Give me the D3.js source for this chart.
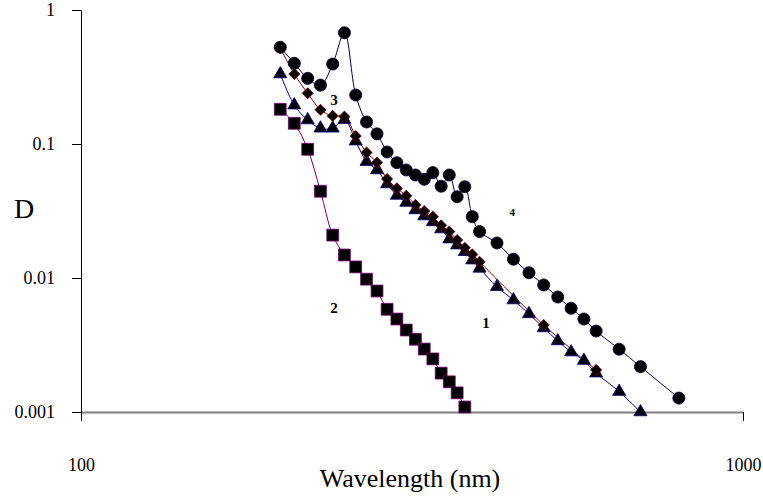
<!DOCTYPE html>
<html>
<head>
<meta charset="utf-8">
<script src="https://cdn.jsdelivr.net/npm/d3@7"></script>
<style>
  body { margin: 0; background: #fff; }
  svg { display: block; }
  text { font-family: "Liberation Serif", "Times New Roman", serif; }
</style>
</head>
<body>
<div id="chart"></div>
<script>
// wavelengths (nm) and optical density
const wl1 = [200,210,220,230,240,250,260,270,280,290,300,310,320,330,340,350,360,370,380,390,400,425,450,475,500,525,550,575,600,650,700];
const d1  = [0.333,0.195,0.151,0.131,0.131,0.152,0.105,0.0738,0.064,0.0503,0.0413,0.0366,0.0322,0.029,0.0262,0.0232,0.0195,0.0176,0.0157,0.0136,0.0118,0.0086,0.00685,0.0054,0.00424,0.00339,0.0028,0.00242,0.00195,0.00142,0.001];

const wl2 = [200,210,220,230,240,250,260,270,280,290,300,310,320,330,340,350,360,370,380];
const d2  = [0.1815,0.1427,0.0913,0.0444,0.0209,0.01485,0.0121,0.0098,0.008,0.00584,0.00494,0.00409,0.00349,0.00295,0.00249,0.00195,0.00168,0.00139,0.00109];

const wl3 = [200,210,220,230,240,250,260,270,280,290,300,310,320,330,340,350,360,370,380,390,400,500,600];
const d3v = [0.52,0.333,0.239,0.180,0.162,0.160,0.1147,0.0864,0.0728,0.0548,0.0467,0.0411,0.0351,0.0316,0.0287,0.0247,0.0222,0.0192,0.0168,0.015,0.0132,0.00446,0.00206];

const wl4 = [200,210,220,230,240,250,260,270,280,290,300,310,320,330,340,350,360,370,380,390,400,425,450,475,500,525,550,575,600,650,700,800];
const d4  = [0.527,0.400,0.309,0.275,0.395,0.677,0.232,0.146,0.119,0.0872,0.0725,0.064,0.0587,0.0545,0.0611,0.0484,0.0587,0.0404,0.048,0.0287,0.0222,0.01825,0.0138,0.01095,0.00887,0.00721,0.00594,0.00494,0.00402,0.00294,0.00218,0.00127];

// curve number labels, placed at (wavelength, D)
const curveLabels = ["1","2","3","4"];
const labelWl = [409,241,241,448];
const labelD  = [0.00461,0.00597,0.213,0.0311];

const xTicks = [100,1000];
const yTicks = [0.001,0.01,0.1,1];

const width = 763, height = 502;
const svg = d3.select("#chart").append("svg")
  .attr("width", width).attr("height", height);

const x = d3.scaleLog().domain([100,1000]).range([81,743]);
const y = d3.scaleLog().domain([0.001,1]).range([412,10]);

// y axis
const yAxis = svg.append("g")
  .attr("transform", "translate(81,0)")
  .call(d3.axisLeft(y).tickValues(yTicks).tickFormat(d => d).tickSize(9).tickSizeOuter(0).tickPadding(17));
yAxis.select(".domain").attr("stroke", "#000");
yAxis.selectAll("text").attr("font-size", 18).attr("font-family", "Liberation Serif").attr("fill", "#000");

// x axis (grey line, labels far below)
const xAxis = svg.append("g")
  .attr("transform", "translate(0,412)")
  .call(d3.axisBottom(x).tickValues(xTicks).tickFormat(d => d).tickSize(9).tickSizeOuter(0).tickPadding(37));
xAxis.select(".domain").attr("stroke", "#808080").attr("stroke-width", 2);
xAxis.selectAll("text").attr("font-size", 18).attr("font-family", "Liberation Serif").attr("fill", "#000");

svg.append("text")
  .attr("x", 410).attr("y", 487)
  .attr("text-anchor", "middle")
  .attr("font-size", 26)
  .text("Wavelength (nm)");

svg.append("text")
  .attr("x", 24).attr("y", 218)
  .attr("text-anchor", "middle")
  .attr("font-size", 28)
  .text("D");

const series = [
  { wl: wl1, d: d1,  line: "#000080", sym: d3.symbolTriangle, size: 74, stroke: "#000080", rot: 0 },
  { wl: wl2, d: d2,  line: "#700070", sym: d3.symbolSquare,   size: 140, stroke: "#700070", rot: 0 },
  { wl: wl3, d: d3v, line: "#800000", sym: d3.symbolSquare,   size: 62, stroke: "#800000", rot: 45 },
  { wl: wl4, d: d4,  line: "#000040", sym: d3.symbolCircle,   size: 115, stroke: "#000040", rot: 0 }
];

const lineGen = d3.line()
  .x(p => x(p[0])).y(p => y(p[1]))
  .curve(d3.curveCatmullRom.alpha(0.5));

series.forEach(s => {
  const pts = s.wl.map((w, i) => [w, s.d[i]]);
  svg.append("path")
    .datum(pts)
    .attr("d", lineGen)
    .attr("fill", "none")
    .attr("stroke", s.line)
    .attr("stroke-width", 1);
});

series.forEach(s => {
  const pts = s.wl.map((w, i) => [w, s.d[i]]);
  svg.append("g").selectAll("path")
    .data(pts)
    .join("path")
    .attr("d", d3.symbol().type(s.sym).size(s.size))
    .attr("transform", p => `translate(${x(p[0])},${y(p[1])}) rotate(${s.rot})`)
    .attr("fill", "#000")
    .attr("stroke", s.stroke)
    .attr("stroke-width", 0.8);
});

svg.append("g").selectAll("text")
  .data(curveLabels)
  .join("text")
  .attr("x", (t, i) => x(labelWl[i]))
  .attr("y", (t, i) => y(labelD[i]))
  .attr("dy", "0.35em")
  .attr("text-anchor", "middle")
  .attr("font-weight", "bold")
  .attr("font-size", (t, i) => i === 3 ? 11 : 15)
  .text(t => t);
</script>
</body>
</html>
